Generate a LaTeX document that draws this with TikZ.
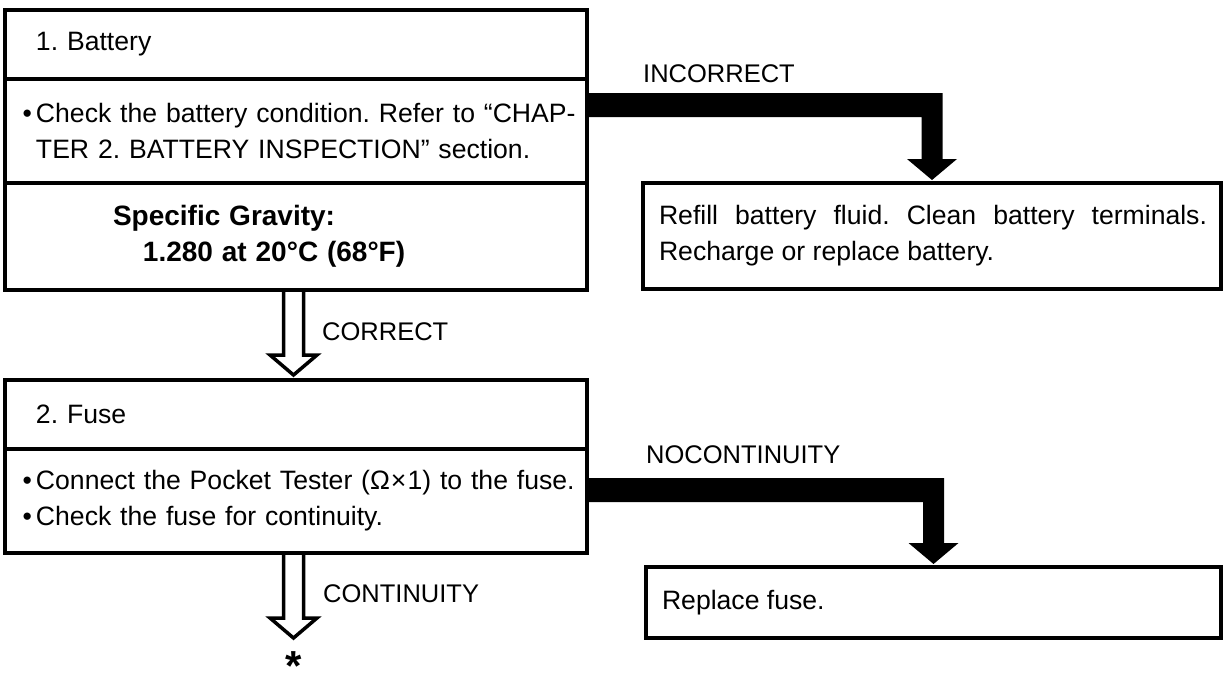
\documentclass[tikz,border=0pt]{standalone}
\usepackage{fontspec}
\setmainfont{Liberation Sans}
\usepackage{tikz}
\usetikzlibrary{positioning, calc}
\frenchspacing
\newcommand{\bodysize}{\fontsize{26.6}{36}\selectfont}
\newcommand{\tagsize}{\fontsize{25.5}{30}\selectfont}
\newcommand{\dotitem}{\leavevmode\llap{•\kern4pt}}
\tikzstyle{cell} = [rectangle, draw, line width=3.5pt, outer sep=0pt, inner xsep=0pt, inner ysep=0pt, text width=582pt, align=left, font=\bodysize, execute at begin node={\leftskip=31pt \rightskip=-8pt plus 2em\relax}]
\tikzstyle{result} = [cell, text width=578pt, align=justify, execute at begin node={\leftskip=16pt \rightskip=14pt\relax}]
\tikzstyle{tag} = [font=\tagsize, inner sep=0pt, anchor=west]
\tikzstyle{fatarrow} = [fill=black, draw=none, to path={($(\tikztostart)+(0,-12)$) -- ($(\tikztotarget |- \tikztostart)+(10.5,-12)$) -- ($(\tikztotarget)+(10.5,-21)$) -- ($(\tikztotarget)+(25,-21)$) -- (\tikztotarget) -- ($(\tikztotarget)+(-25,-21)$) -- ($(\tikztotarget)+(-10.5,-21)$) -- ($(\tikztotarget |- \tikztostart)+(-10.5,12)$) -- ($(\tikztostart)+(0,12)$) -- cycle}]
\tikzstyle{hollowarrow} = [draw, line width=3.5pt, line join=miter, to path={($(\tikztostart)+(-10,0)$) -- ($(\tikztotarget)+(-10,-20)$) -- ($(\tikztotarget)+(-23.5,-20)$) -- (\tikztotarget) -- ($(\tikztotarget)+(23.5,-20)$) -- ($(\tikztotarget)+(10,-20)$) -- ($(\tikztostart)+(10,0)$)}]
\begin{document}
\begin{tikzpicture}[x=1pt, y=-1pt]
    \useasboundingbox (0,0) rectangle (1225,675);

    % Step 1: battery
    \node [cell, anchor=north west, minimum height=69pt] (battitle) at (5,10) {1. Battery};
    \node [cell, below=0pt of battitle, minimum height=104pt] (batcheck) {\dotitem Check the battery condition. Refer to “CHAP-\\TER 2. BATTERY INSPECTION” section.};
    \node [cell, below=0pt of batcheck, minimum height=107pt] (batspec) {\bfseries\fontsize{28}{37}\selectfont\hspace*{77pt}Specific Gravity:\\\hspace*{107pt}1.280 at 20°C (68°F)};

    % Step 2: fuse
    \node [cell, below=90pt of batspec, minimum height=69pt] (fusetitle) {2. Fuse};
    \node [cell, below=0pt of fusetitle, minimum height=104pt] (fusecheck) {\dotitem Connect the Pocket Tester (Ω\kern1pt×\kern1pt1) to the fuse.\\\dotitem Check the fuse for continuity.};

    % Remedies
    \node [result, anchor=north west, minimum height=106pt] (refill) at (643,183) {Refill battery fluid. Clean battery terminals.\linebreak Recharge or replace battery.};
    \node [result, text width=575pt, anchor=north west, minimum height=71pt] (replace) at (646,567) {Replace fuse.};

    % Arrow ends
    \coordinate (incA) at ([yshift=26pt]batcheck.east);
    \coordinate (incB) at ([yshift=3pt]refill.north);
    \coordinate (nocA) at ([yshift=11pt]fusecheck.east);
    \coordinate (nocB) at ([yshift=3pt]replace.north);
    \coordinate (okA) at ([xshift=-2.5pt]batspec.south);
    \coordinate (okB) at ([xshift=-2.5pt,yshift=5pt]fusetitle.north);
    \coordinate (contA) at ([xshift=-2.5pt]fusecheck.south);
    \coordinate (contB) at ([yshift=-85pt]contA);

    % Connect nodes
    \path [fatarrow] (incA) to (incB);
    \path [fatarrow] (nocA) to (nocB);
    \draw [hollowarrow] (okA) to (okB);
    \draw [hollowarrow] (contA) to (contB);

    % Labels
    \node [tag] (inclbl) at (643,74) {INCORRECT};
    \node [tag] (noclbl) at (646,455) {NOCONTINUITY};
    \node [tag] (oklbl) at (322,332) {CORRECT};
    \node [tag] (contlbl) at (323,594) {CONTINUITY};
    \node [font=\bfseries\fontsize{42}{42}\selectfont, inner sep=0pt] (asterisk) at (293.5,660) {\raisebox{-12pt}[17pt][0pt]{*}};
\end{tikzpicture}
\end{document}
